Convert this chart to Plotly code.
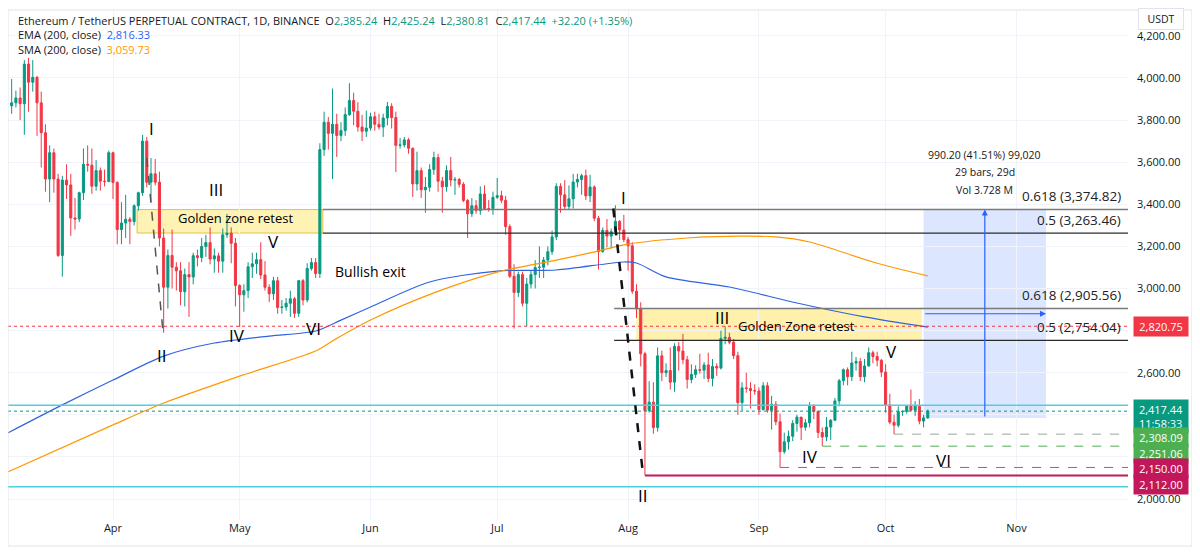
import pandas as pd
import plotly.graph_objects as go

# ---------------- data ----------------
opens = [3868,3882,3905,3878,4066,3980,4003,3882,3740,3520,3645,3520,3157,3515,3492,3335,3330,3455,3590,3586,3486,3560,3510,3508,
         3645,3503,3280,3311,3329,3318,3393,3455,3700,3505,3545,3505,3240,3006,3157,3101,3084,2985,3066,3055,3156,3147,3200,3218,3140,3155,3130,3255,3263,3215,
         3014,2970,2990,3103,3117,3137,3064,3006,2975,3037,2910,2912,2930,2951,2882,3037,2945,3095,3123,3071,3660,3790,3737,3780,3727,3750,3826,3893,3842,3767,3747,
         3762,3816,3780,3767,3810,3865,3812,3680,3682,3706,3666,3497,3560,3469,3481,3565,3622,3510,3483,3560,3515,3518,3495,3418,3355,3393,3370,3449,3380,3380,
         3433,3441,3419,3294,3058,2981,3066,2930,3021,3066,3100,3101,3135,3175,3245,3485,3445,3390,3426,3506,3518,3536,3440,3482,3334,3175,3276,3249,3270,3319,3278,
         3232,3203,2987,2903,2690,2420,2460,2340,2680,2600,2610,2555,2725,2703,2662,2568,2592,2614,2612,2637,2573,2630,2622,2763,2768,2745,2681,2458,2528,2525,2515,
         2513,2425,2538,2422,2450,2367,2225,2272,2298,2359,2389,2341,2362,2440,2416,2316,2295,2342,2374,2466,2562,2614,2581,2646,2653,2581,2632,2695,2677,2659,
         2603,2447,2365,2350,2415,2416,2441,2422,2441,2370,2385.24]
highs = [3995,3940,3955,4085,4095,4085,4010,3935,3780,3680,3665,3545,3535,3590,3545,3430,3460,3665,3680,3665,3610,3575,3565,3655,
         3650,3510,3410,3445,3340,3400,3460,3730,3720,3620,3615,3555,3285,3185,3280,3125,3125,3095,3125,3170,3185,3240,3255,3290,3190,3170,3285,3355,3290,3240,
         3020,3020,3125,3170,3170,3220,3130,3020,3055,3055,2945,2955,2990,2960,3040,3045,3120,3145,3145,3690,3840,3815,3950,3830,3790,3860,3975,3930,3885,3825,3845,
         3835,3840,3830,3830,3886,3880,3840,3715,3720,3715,3670,3650,3575,3530,3590,3650,3640,3530,3585,3625,3530,3525,3505,3425,3430,3420,3485,3490,3420,3460,
         3525,3465,3440,3305,3115,3080,3080,3050,3085,3135,3200,3150,3200,3275,3500,3500,3515,3490,3545,3545,3545,3565,3540,3490,3345,3290,3330,3285,3395,3325,3350,
         3245,3220,3020,2935,2700,2560,2555,2720,2705,2645,2720,2740,2745,2785,2680,2640,2635,2690,2650,2695,2665,2645,2800,2820,2790,2760,2700,2555,2600,2555,2545,
         2530,2555,2555,2490,2465,2405,2315,2325,2375,2400,2390,2380,2460,2450,2420,2340,2390,2380,2480,2570,2620,2625,2700,2675,2670,2665,2720,2705,2700,2665,
         2640,2500,2400,2440,2420,2445,2520,2465,2475,2400,2425.24]
lows = [3830,3860,3800,3730,3840,3935,3725,3575,3460,3410,3455,3150,3056,3425,3250,3280,3315,3420,3555,3450,3465,3465,3485,3505,
        3425,3210,3210,3240,3210,3300,3370,3440,3480,3410,3490,3200,2790,2905,3000,2990,2920,2915,2865,3020,3105,3125,3150,3115,3075,3075,3075,3240,3120,2915,
        2817,2890,2955,3050,3070,3045,2990,2935,2945,2880,2880,2895,2865,2860,2865,2920,2935,3085,3050,3050,3630,3660,3520,3625,3700,3725,3820,3775,3745,3700,3720,
        3750,3750,3755,3720,3775,3760,3553,3665,3670,3640,3435,3465,3430,3360,3460,3540,3460,3360,3460,3485,3445,3480,3410,3240,3340,3355,3350,3375,3365,3350,
        3425,3405,3255,3050,2810,2960,2915,2820,3000,3000,3050,3050,3110,3160,3230,3360,3375,3375,3380,3480,3445,3420,3410,3320,3090,3170,3195,3190,3255,3230,3220,
        3085,2975,2860,2630,2112,2410,2310,2320,2560,2580,2520,2510,2610,2640,2525,2550,2575,2595,2570,2555,2535,2585,2615,2735,2735,2665,2400,2420,2505,2430,2495,
        2400,2420,2410,2330,2350,2150,2215,2235,2275,2320,2280,2325,2340,2380,2290,2251,2275,2280,2370,2440,2540,2540,2560,2610,2560,2555,2630,2645,2630,2580,
        2410,2355,2308,2340,2395,2405,2415,2395,2355,2340,2380.81]
closes = [3882,3905,3878,4066,3980,4003,3882,3740,3520,3645,3520,3157,3515,3492,3335,3330,3455,3590,3586,3486,3560,3510,3508,3645,
          3503,3280,3311,3329,3318,3393,3455,3700,3505,3545,3505,3240,3006,3157,3101,3084,2985,3066,3055,3156,3147,3200,3218,3140,3155,3130,3255,3263,3215,3014,
          2970,2990,3103,3117,3137,3064,3006,2975,3037,2910,2912,2930,2951,2882,3037,2945,3095,3123,3071,3660,3790,3737,3780,3727,3750,3826,3893,3842,3767,3747,3762,
          3816,3780,3767,3810,3865,3812,3680,3682,3706,3666,3497,3560,3469,3481,3565,3622,3510,3483,3560,3515,3518,3495,3418,3355,3393,3370,3449,3380,3380,3433,
          3441,3419,3294,3058,2981,3066,2930,3021,3066,3100,3101,3135,3175,3245,3485,3445,3390,3426,3506,3518,3536,3440,3482,3334,3175,3276,3249,3270,3319,3278,3232,
          3203,2987,2903,2690,2420,2460,2340,2680,2600,2610,2555,2725,2703,2662,2568,2592,2614,2612,2637,2573,2630,2622,2763,2768,2745,2681,2458,2528,2525,2515,2513,
          2425,2538,2422,2450,2367,2225,2272,2298,2359,2389,2341,2362,2440,2416,2316,2295,2342,2374,2466,2562,2614,2581,2646,2653,2581,2632,2695,2677,2659,2603,
          2447,2365,2350,2415,2416,2441,2422,2441,2370,2385.24,2417.44]
dates = pd.date_range("2024-03-08", periods=len(closes), freq="D")

ema_dates = ["2024-03-07","2024-03-20","2024-04-01","2024-04-13","2024-04-25","2024-05-08","2024-05-19","2024-05-25",
             "2024-06-01","2024-06-15","2024-07-01","2024-07-15","2024-07-31","2024-08-03","2024-08-10","2024-08-25",
             "2024-09-10","2024-09-26","2024-10-11"]
ema_values = [2313,2447,2565,2679,2741,2774,2798,2850,2912,3031,3083,3088,3126,3121,3055,3007,2931,2865,2816.33]
sma_dates = ["2024-03-07","2024-04-01","2024-04-13","2024-05-01","2024-05-19","2024-05-23","2024-06-01","2024-06-16",
             "2024-07-01","2024-07-15","2024-07-23","2024-08-01","2024-08-15","2024-08-28","2024-09-05","2024-09-13",
             "2024-09-28","2024-10-11"]
sma_values = [2128,2352,2456,2584,2703,2751,2850,2979,3078,3135,3169,3211,3240,3249,3245,3221,3126,3059.73]

month_ticks = ["2024-04-01","2024-05-01","2024-06-01","2024-07-01","2024-08-01","2024-09-01","2024-10-01","2024-11-01"]
month_labels = ["Apr","May","Jun","Jul","Aug","Sep","Oct","Nov"]
price_ticks = [2000,2200,2400,2600,2800,3000,3200,3400,3600,3800,4000,4200]
price_tick_labels = ["2,000.00","","","2,600.00","","3,000.00","3,200.00","3,400.00","3,600.00","3,800.00","4,000.00","4,200.00"]

fib_upper = [3374.82, 3263.46]
fib_lower = [2905.56, 2754.04]
levels = {"ref": 2820.75, "last": 2417.44, "cyan_hi": 2445, "cyan_lo": 2058,
          "low_aug": 2112.00, "low_sep": 2150.00, "low_sep2": 2251.06, "low_oct": 2308.09}
measure = {"p0": 2385.24, "p1": 3375.44, "d0": "2024-10-10", "d1": "2024-11-08"}

# ---------------- styling ----------------
GREEN = "#089981"
RED = "#f23645"
TXT = "#131722"
FONT = "Open Sans"
X_RANGE = ["2024-03-07 03:07", "2024-11-27 10:00"]
Y_RANGE = [1900.3, 4323]
X_END = X_RANGE[1]

fig = go.Figure()

fig.add_trace(go.Candlestick(
    x=dates, open=opens, high=highs, low=lows, close=closes,
    increasing=dict(line=dict(color=GREEN, width=1), fillcolor=GREEN),
    decreasing=dict(line=dict(color=RED, width=1), fillcolor=RED),
    whiskerwidth=0, showlegend=False, hoverinfo="skip"))

fig.add_trace(go.Scatter(x=ema_dates, y=ema_values, mode="lines",
                         line=dict(color="#2f63e0", width=1.2, shape="spline", smoothing=0.8),
                         showlegend=False, hoverinfo="skip"))
fig.add_trace(go.Scatter(x=sma_dates, y=sma_values, mode="lines",
                         line=dict(color="#ff9800", width=1.2, shape="spline", smoothing=0.8),
                         showlegend=False, hoverinfo="skip"))

shapes = []
def hline(y, x0=None, color="#000", width=1, dash="solid", layer="above"):
    if x0 is None:
        shapes.append(dict(type="line", xref="paper", yref="y", x0=0, x1=1, y0=y, y1=y,
                           line=dict(color=color, width=width, dash=dash), layer=layer))
    else:
        shapes.append(dict(type="line", xref="x", yref="y", x0=x0, x1=X_END, y0=y, y1=y,
                           line=dict(color=color, width=width, dash=dash), layer=layer))

# golden zone boxes
shapes.append(dict(type="rect", xref="x", yref="y", x0="2024-04-06 17:00", x1="2024-05-20 17:00",
                   y0=fib_upper[1], y1=fib_upper[0], fillcolor="rgba(255,226,90,0.45)",
                   line=dict(color="rgba(220,190,50,0.9)", width=1), layer="below"))
shapes.append(dict(type="rect", xref="x", yref="y", x0="2024-08-02 22:00", x1="2024-10-09 14:00",
                   y0=fib_lower[1], y1=fib_lower[0], fillcolor="rgba(255,226,90,0.5)",
                   line=dict(width=0), layer="below"))
# measure rectangle
shapes.append(dict(type="rect", xref="x", yref="y", x0=measure["d0"], x1=measure["d1"],
                   y0=measure["p0"], y1=measure["p1"], fillcolor="rgba(41,98,255,0.16)",
                   line=dict(width=0), layer="below"))

# full-width lines
hline(levels["ref"], color=RED, width=1, dash="dot")
hline(levels["last"], color=GREEN, width=1, dash="dot")
hline(levels["cyan_hi"], color="#4dd0e1", width=1.5)
hline(levels["cyan_lo"], color="#4dd0e1", width=1.5)
# fib lines
hline(fib_upper[0], x0="2024-05-20 17:00", color="#7a7a7a", width=1.5)
hline(fib_upper[1], x0="2024-05-20 17:00", color="#2a2a2a", width=1.2)
hline(fib_lower[0], x0="2024-07-28 17:00", color="#7a7a7a", width=1.5)
hline(fib_lower[1], x0="2024-07-28 17:00", color="#2a2a2a", width=1.2)
# lows
hline(levels["low_aug"], x0="2024-08-05", color="#c2185b", width=2)
hline(levels["low_sep"], x0="2024-09-06", color="#d6457a", width=1, dash="dash")
hline(levels["low_sep2"], x0="2024-09-16", color="#4caf50", width=1, dash="dash")
hline(levels["low_oct"], x0="2024-10-03", color="#9aa89a", width=1, dash="dash")

# dashed impulse legs
shapes.append(dict(type="line", xref="x", yref="y", x0="2024-04-09 00:00", y0=3620, x1="2024-04-12 20:00", y1=2795,
                   line=dict(color="#555555", width=1.5, dash="dash"), layer="above"))
shapes.append(dict(type="line", xref="x", yref="y", x0="2024-07-28 12:00", y0=3380, x1="2024-08-04 12:00", y1=2125,
                   line=dict(color="#111111", width=2.5, dash="dash"), layer="above"))

# frame
shapes.append(dict(type="rect", xref="paper", yref="paper", x0=0, x1=1.0571, y0=-0.051, y1=1.0,
                   line=dict(color="#e0e3eb", width=1), fillcolor="rgba(0,0,0,0)", layer="above"))

ann = []
def label(text, x, y, size=18, color="#000", **kw):
    d = dict(text=text, x=x, y=y, xref="x", yref="y", showarrow=False,
             font=dict(family=FONT, size=size, color=color))
    d.update(kw)
    ann.append(d)

# wave labels
for t, x, y in [("I", "2024-04-10 05:00", 3758), ("II", "2024-04-12 14:00", 2684), ("III", "2024-04-25 10:00", 3468),
                ("IV", "2024-04-30 10:00", 2779), ("V", "2024-05-08 22:00", 3221), ("VI", "2024-05-18 10:00", 2808),
                ("I", "2024-07-31 00:00", 3430), ("II", "2024-08-04 12:00", 2019), ("III", "2024-08-23 07:00", 2860),
                ("IV", "2024-09-13 02:00", 2200), ("V", "2024-10-02 12:00", 2703), ("VI", "2024-10-14 19:00", 2185)]:
    label(t, x, y, size=17)
label("Golden zone retest", "2024-04-29 22:00", 3335, size=13)
label("Golden Zone retest", "2024-09-09 19:00", 2822, size=13)
label("Bullish exit", "2024-06-01 02:00", 3083, size=14)

# fib labels
for t, y in [("0.618 (3,374.82)", 3439), ("0.5 (3,263.46)", 3325), ("0.618 (2,905.56)", 2969), ("0.5 (2,754.04)", 2817)]:
    label(t, "2024-11-26 05:00", y, size=13.5, color="#222", xanchor="right")

# measure texts
for t, y in [("990.20 (41.51%) 99,020", 3634), ("29 bars, 29d", 3553), ("Vol 3.728 M", 3468)]:
    label(t, "2024-10-24 12:00", y, size=10.5, color=TXT)

# measure arrows
ann.append(dict(x="2024-10-24 12:00", y=measure["p1"], ax="2024-10-24 12:00", ay=measure["p0"],
                xref="x", yref="y", axref="x", ayref="y", text="", showarrow=True,
                arrowhead=2, arrowsize=1, arrowwidth=1.2, arrowcolor="#2962ff"))
ann.append(dict(x=measure["d1"], y=2880, ax=measure["d0"], ay=2880,
                xref="x", yref="y", axref="x", ayref="y", text="", showarrow=True,
                arrowhead=2, arrowsize=1, arrowwidth=1.2, arrowcolor="#2962ff"))

# price-axis labels
for t, y, bg in [("2,820.75", 2820.75, RED), ("2,417.44<br>11:58:33", 2390, GREEN), ("2,308.09", 2290, "#4caf50"),
                 ("2,251.06", 2214, "#4caf50"), ("2,150.00", 2143, "#c2185b"), ("2,112.00", 2067, "#c2185b")]:
    ann.append(dict(text=t, x=1.0045, y=y, xref="paper", yref="y", xanchor="left", yanchor="middle",
                    showarrow=False, bgcolor=bg, borderpad=2, width=50, align="center",
                    font=dict(family=FONT, size=11, color="white")))

# USDT box
ann.append(dict(text="USDT", x=1.0295, y=0.982, xref="paper", yref="paper", xanchor="center", yanchor="middle",
                showarrow=False, bgcolor="white", bordercolor="#e0e3eb", borderwidth=1, borderpad=3, width=38,
                font=dict(family=FONT, size=10.5, color=TXT)))

# header
g = lambda v: f"<span style='color:{GREEN}'>{v}</span>"
header1 = ("Ethereum / TetherUS PERPETUAL CONTRACT, 1D, BINANCE&nbsp;&nbsp;O" + g("2,385.24") +
           "&nbsp;&nbsp;H" + g("2,425.24") + "&nbsp;&nbsp;L" + g("2,380.81") + "&nbsp;&nbsp;C" + g("2,417.44") +
           "&nbsp;&nbsp;" + g("+32.20 (+1.35%)"))
header2 = "EMA (200, close)&nbsp;&nbsp;<span style='color:#2962ff'>2,816.33</span>"
header3 = "SMA (200, close)&nbsp;&nbsp;<span style='color:#ff9800'>3,059.73</span>"
for t, y in [(header1, 0.980), (header2, 0.951), (header3, 0.922)]:
    ann.append(dict(text=t, x=0.0071, y=y, xref="paper", yref="paper", xanchor="left", yanchor="middle",
                    showarrow=False, font=dict(family=FONT, size=11, color=TXT)))

# page body has an 8px margin: figure is sized/offset so the plot lands where the reference has it
fig.update_layout(
    width=1192, height=544,
    margin=dict(l=0, r=72, t=2, b=32),
    paper_bgcolor="white", plot_bgcolor="white",
    shapes=shapes, annotations=ann,
    showlegend=False,
    font=dict(family=FONT, color=TXT),
    xaxis=dict(type="date", range=X_RANGE, tickvals=month_ticks, ticktext=month_labels,
               showgrid=True, gridcolor="#f0f3fa", zeroline=False, showline=False, ticks="",
               tickfont=dict(family=FONT, size=11, color=TXT), rangeslider=dict(visible=False),
               fixedrange=True),
    yaxis=dict(side="right", range=Y_RANGE, tickvals=price_ticks, ticktext=price_tick_labels,
               showgrid=True, gridcolor="#f0f3fa", zeroline=False, showline=False, ticks="",
               ticklabelstandoff=8, tickfont=dict(family=FONT, size=11, color=TXT), fixedrange=True),
)

fig.write_html("out.html")
